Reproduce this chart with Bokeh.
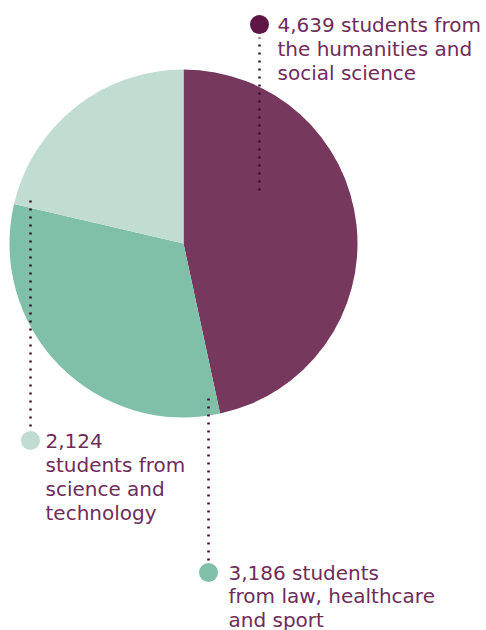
import math
from bokeh.plotting import figure
from bokeh.models import ColumnDataSource, Range1d
from bokeh.core.properties import value
from bokeh.embed import file_html
from bokeh.resources import INLINE

categories = ["humanities and social science", "law, healthcare and sport", "science and technology"]
students = [4639, 3186, 2124]
colors = ["#76385c", "#80bfa8", "#c1dcd0"]
dot_colors = ["#5e1646", "#80bfa8", "#c1dcd0"]
label_lines = [
    ["4,639 students from", "the humanities and", "social science"],
    ["3,186 students", "from law, healthcare", "and sport"],
    ["2,124", "students from", "science and", "technology"],
]

W, H = 486, 630
p = figure(width=W, height=H, x_range=Range1d(0, W), y_range=Range1d(H, 0),
           output_backend="svg", toolbar_location=None, min_border=0)
p.axis.visible = False
p.grid.visible = False
p.outline_line_color = None
p.background_fill_color = "white"

cx, cy, r = 183, 243, 174
total = sum(students)
starts, ends = [], []
acc = 0.0
for v in students:
    a0 = math.pi / 2 - acc / total * 2 * math.pi
    acc += v
    a1 = math.pi / 2 - acc / total * 2 * math.pi
    starts.append(a0)
    ends.append(a1)

src = ColumnDataSource(dict(x=[cx] * 3, y=[cy] * 3, start=starts, end=ends, color=colors))
p.wedge(x="x", y="y", radius=r, start_angle="start", end_angle="end",
        color="color", line_color=None, direction="clock", source=src)

# leader lines and dots (pixel layout)
leaders = [
    dict(x=259, y0=190, y1=37, dy=24, tx=277, ty=24, sp=24.3),
    dict(x=208, y0=398, y1=560, dy=572, tx=228, ty=572, sp=23.5),
    dict(x=30, y0=200, y1=427, dy=440, tx=45, ty=440, sp=24.3),
]
for i, L in enumerate(leaders):
    p.line([L["x"], L["x"]], [L["y0"], L["y1"]], line_color="#3d0a2e",
           line_width=2.5, line_dash="2 6")
    p.scatter([L["x"]], [L["dy"]], size=19, color=dot_colors[i], line_color=None)
    lines = label_lines[i]
    p.text(x=[L["tx"]] * len(lines), y=[L["ty"] + L["sp"] * k for k in range(len(lines))],
           text=lines, text_font=value("DejaVu Sans"), text_font_size="20px",
           text_color="#6f2c5a", text_baseline="middle", text_align="left")

open("out.html", "w").write(file_html(p, INLINE))
